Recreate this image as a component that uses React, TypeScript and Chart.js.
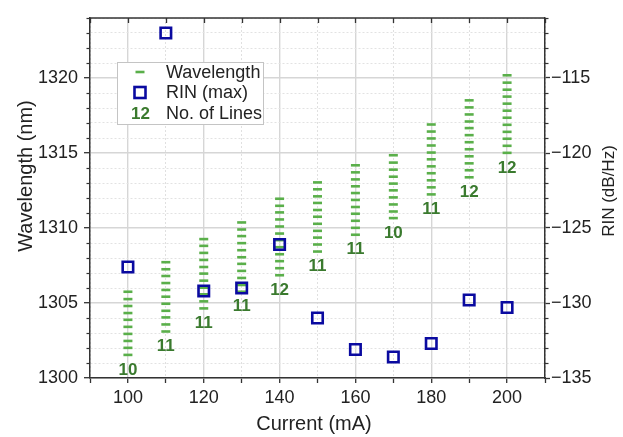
import { useEffect, useRef } from "react";
import { Chart, registerables } from "chart.js";

Chart.register(...registerables);

const FONT = "'Liberation Sans', Arial, Helvetica, sans-serif";

// ---- data ----
const currents = [100, 110, 120, 130, 140, 150, 160, 170, 180, 190, 200];

const wavelengths100 = [1305.75, 1305.26, 1304.8, 1304.33, 1303.88, 1303.41, 1302.94, 1302.47, 1302.01, 1301.54];
const wavelengths110 = [1307.72, 1307.25, 1306.8, 1306.33, 1305.87, 1305.42, 1304.95, 1304.48, 1304.04, 1303.57, 1303.1];
const wavelengths120 = [1309.26, 1308.81, 1308.34, 1307.87, 1307.4, 1306.96, 1306.49, 1306.02, 1305.58, 1305.11, 1304.64];
const wavelengths130 = [1310.37, 1309.9, 1309.46, 1308.99, 1308.52, 1308.05, 1307.61, 1307.14, 1306.67, 1306.2, 1305.75];
const wavelengths140 = [1311.95, 1311.48, 1311.04, 1310.57, 1310.1, 1309.63, 1309.19, 1308.72, 1308.25, 1307.79, 1307.32, 1306.85];
const wavelengths150 = [1313.04, 1312.58, 1312.11, 1311.67, 1311.2, 1310.75, 1310.28, 1309.81, 1309.36, 1308.9, 1308.43];
const wavelengths160 = [1314.18, 1313.71, 1313.24, 1312.78, 1312.33, 1311.87, 1311.4, 1310.95, 1310.48, 1310.01, 1309.55];
const wavelengths170 = [1314.85, 1314.36, 1313.89, 1313.42, 1312.96, 1312.51, 1312.04, 1311.57, 1311.1, 1310.66];
const wavelengths180 = [1316.9, 1316.43, 1315.97, 1315.5, 1315.03, 1314.58, 1314.11, 1313.65, 1313.18, 1312.71, 1312.24];
const wavelengths190 = [1318.51, 1318.04, 1317.57, 1317.1, 1316.66, 1316.19, 1315.72, 1315.25, 1314.78, 1314.31, 1313.85, 1313.38];
const wavelengths200 = [1320.18, 1319.69, 1319.22, 1318.76, 1318.29, 1317.82, 1317.35, 1316.88, 1316.41, 1315.95, 1315.48, 1315.01];

const wavelengthColumns = [
  wavelengths100, wavelengths110, wavelengths120, wavelengths130, wavelengths140, wavelengths150,
  wavelengths160, wavelengths170, wavelengths180, wavelengths190, wavelengths200,
];

const rinMax = [-127.6, -112.0, -129.2, -129.0, -126.1, -131.0, -133.1, -133.6, -132.7, -129.8, -130.3];
const lineCounts = [10, 11, 11, 11, 12, 11, 11, 10, 11, 12, 12];

const legendLabels = ["Wavelength", "RIN (max)", "No. of Lines"];
const legendCountSample = "12";

// ---- styles ----
const GREEN = "#5aaf4a";
const DARK_GREEN = "#3a7a2e";
const BLUE = "#0a0aa0";
const AXIS = "#333333";
const TEXT = "#222222";

const isMult = (v: number, m: number) => Math.abs(v - Math.round(v / m) * m) < 1e-6;

const overlayPlugin = {
  id: "overlay",
  afterDatasetsDraw(chart: any) {
    const { ctx, chartArea, scales } = chart;
    const xs = scales.x;
    const ys = scales.y;
    const y2 = scales.y2;
    ctx.save();

    // No. of lines labels under each column
    ctx.font = `bold 17px ${FONT}`;
    ctx.fillStyle = DARK_GREEN;
    ctx.textAlign = "center";
    ctx.textBaseline = "middle";
    currents.forEach((c, i) => {
      const lo = Math.min(...wavelengthColumns[i]);
      ctx.fillText(String(lineCounts[i]), xs.getPixelForValue(c), ys.getPixelForValue(lo) + 15);
    });

    // minor ticks on left and right axes
    ctx.strokeStyle = AXIS;
    ctx.lineWidth = 1.2;
    ys.ticks.forEach((t: any) => {
      if (!isMult(t.value, 5)) {
        const py = Math.round(ys.getPixelForValue(t.value)) + 0.5;
        ctx.beginPath();
        ctx.moveTo(chartArea.left, py);
        ctx.lineTo(chartArea.left - 3.5, py);
        ctx.stroke();
      }
    });
    y2.ticks.forEach((t: any) => {
      if (!isMult(t.value, 5)) {
        const py = Math.round(y2.getPixelForValue(t.value)) + 0.5;
        ctx.beginPath();
        ctx.moveTo(chartArea.right, py);
        ctx.lineTo(chartArea.right + 3.5, py);
        ctx.stroke();
      }
    });

    // top frame and inward ticks
    ctx.lineWidth = 1.5;
    ctx.beginPath();
    ctx.moveTo(chartArea.left, chartArea.top);
    ctx.lineTo(chartArea.right, chartArea.top);
    ctx.stroke();
    ctx.lineWidth = 1.3;
    xs.ticks.forEach((t: any) => {
      const px = Math.round(xs.getPixelForValue(t.value)) + 0.5;
      ctx.beginPath();
      ctx.moveTo(px, chartArea.top);
      ctx.lineTo(px, chartArea.top + 5);
      ctx.stroke();
    });

    // legend
    const lx = 117, ly = 62, lw = 146, lh = 62;
    ctx.fillStyle = "#ffffff";
    ctx.fillRect(lx, ly, lw, lh);
    ctx.strokeStyle = "#c4c4c4";
    ctx.lineWidth = 1;
    ctx.strokeRect(lx + 0.5, ly + 0.5, lw, lh);

    const symX = 140;
    const rows = [72, 92.5, 113];
    // dash
    ctx.strokeStyle = GREEN;
    ctx.lineWidth = 2.6;
    ctx.beginPath();
    ctx.moveTo(symX - 4.5, rows[0]);
    ctx.lineTo(symX + 4.5, rows[0]);
    ctx.stroke();
    // square
    ctx.strokeStyle = BLUE;
    ctx.lineWidth = 2.6;
    ctx.strokeRect(symX - 5.5, rows[1] - 5.5, 11, 11);
    // count sample
    ctx.font = `bold 17px ${FONT}`;
    ctx.fillStyle = DARK_GREEN;
    ctx.textAlign = "center";
    ctx.fillText(legendCountSample, symX + 0.5, rows[2] + 1);

    ctx.font = `18px ${FONT}`;
    ctx.fillStyle = TEXT;
    ctx.textAlign = "left";
    legendLabels.forEach((s, i) => ctx.fillText(s, 166, rows[i] + 1));

    // axis titles
    ctx.fillStyle = TEXT;
    ctx.textAlign = "center";
    ctx.textBaseline = "middle";
    ctx.font = `20px ${FONT}`;
    ctx.fillText("Current (mA)", 314, 424);

    ctx.save();
    ctx.translate(26, 176);
    ctx.rotate(-Math.PI / 2);
    ctx.fillText("Wavelength (nm)", 0, 0);
    ctx.restore();

    ctx.save();
    ctx.font = `17px ${FONT}`;
    ctx.translate(609, 191);
    ctx.rotate(-Math.PI / 2);
    ctx.fillText("RIN (dB/Hz)", 0, 0);
    ctx.restore();

    ctx.restore();
  },
};

export default function App() {
  const canvasRef = useRef<HTMLCanvasElement | null>(null);

  useEffect(() => {
    if (!canvasRef.current) return;
    Chart.defaults.font.family = FONT;

    const wavelengthPoints: { x: number; y: number }[] = [];
    currents.forEach((c, i) => {
      wavelengthColumns[i].forEach((w) => wavelengthPoints.push({ x: c, y: w }));
    });
    const rinPoints = currents.map((c, i) => ({ x: c, y: rinMax[i] }));

    const chart = new Chart(canvasRef.current, {
      type: "scatter",
      data: {
        datasets: [
          {
            label: "RIN (max)",
            data: rinPoints,
            yAxisID: "y2",
            pointStyle: "rect",
            pointRadius: 7.4,
            pointHoverRadius: 7.4,
            borderColor: BLUE,
            backgroundColor: "rgba(0,0,0,0)",
            borderWidth: 2.6,
            order: 0,
          },
          {
            label: "Wavelength",
            data: wavelengthPoints,
            yAxisID: "y",
            pointStyle: "line",
            pointRadius: 4.5,
            pointHoverRadius: 4.5,
            borderColor: GREEN,
            backgroundColor: GREEN,
            borderWidth: 2.6,
            order: 1,
          },
        ],
      },
      options: {
        animation: false,
        responsive: true,
        maintainAspectRatio: false,
        layout: { padding: { top: 18, left: 0, right: 0, bottom: 0 } },
        plugins: { legend: { display: false }, tooltip: { enabled: false } },
        events: [],
        scales: {
          x: {
            type: "linear",
            position: "bottom",
            min: 90,
            max: 210,
            afterFit: (s: any) => {
              s.height = 59;
            },
            ticks: {
              stepSize: 10,
              autoSkip: false,
              maxRotation: 0,
              padding: 4,
              color: TEXT,
              font: { size: 18, family: FONT },
              callback: (v: any) => (isMult(Number(v), 20) ? String(v) : ""),
            },
            grid: {
              color: (c: any) => (c.tick && isMult(c.tick.value, 20) ? "#d6d6d6" : "#e0e0e0"),
              lineWidth: (c: any) => (c.tick && isMult(c.tick.value, 20) ? 1.4 : 1),
              tickColor: AXIS,
              tickLength: 5,
              tickWidth: 1.3,
            },
            border: {
              color: AXIS,
              width: 1.5,
              dash: (c: any) => (c.tick && !isMult(c.tick.value, 20) ? [2, 2] : []),
            },
          },
          y: {
            type: "linear",
            position: "left",
            min: 1300,
            max: 1324,
            afterFit: (s: any) => {
              s.width = 90;
            },
            ticks: {
              stepSize: 1,
              autoSkip: false,
              maxTicksLimit: 100,
              padding: 6,
              color: TEXT,
              font: { size: 18, family: FONT },
              callback: (v: any) => (isMult(Number(v), 5) ? String(v) : ""),
            },
            grid: {
              color: (c: any) => (c.tick && isMult(c.tick.value, 5) ? "#d6d6d6" : "#e2e2e2"),
              lineWidth: (c: any) => (c.tick && isMult(c.tick.value, 5) ? 1.4 : 1),
              tickColor: (c: any) => (c.tick && isMult(c.tick.value, 5) ? AXIS : "rgba(0,0,0,0)"),
              tickLength: 6,
              tickWidth: 1.3,
            },
            border: {
              color: AXIS,
              width: 1.5,
              dash: (c: any) => (c.tick && !isMult(c.tick.value, 5) ? [2, 2] : []),
            },
          },
          y2: {
            type: "linear",
            position: "right",
            min: -135,
            max: -111,
            afterFit: (s: any) => {
              s.width = 78;
            },
            ticks: {
              stepSize: 1,
              autoSkip: false,
              maxTicksLimit: 100,
              padding: 1,
              color: TEXT,
              font: { size: 18, family: FONT },
              callback: (v: any) => (isMult(Number(v), 5) ? "\u2212" + Math.abs(Number(v)) : ""),
            },
            grid: {
              drawOnChartArea: false,
              tickColor: (c: any) => (c.tick && isMult(c.tick.value, 5) ? AXIS : "rgba(0,0,0,0)"),
              tickLength: 5,
              tickWidth: 1.3,
            },
            border: { color: AXIS, width: 1.5 },
          },
        },
      },
      plugins: [overlayPlugin],
    } as any);

    return () => chart.destroy();
  }, []);

  return (
    <div style={{ position: "absolute", left: 0, top: 0, width: 623, height: 437, background: "#fff" }}>
      <canvas ref={canvasRef} />
    </div>
  );
}
